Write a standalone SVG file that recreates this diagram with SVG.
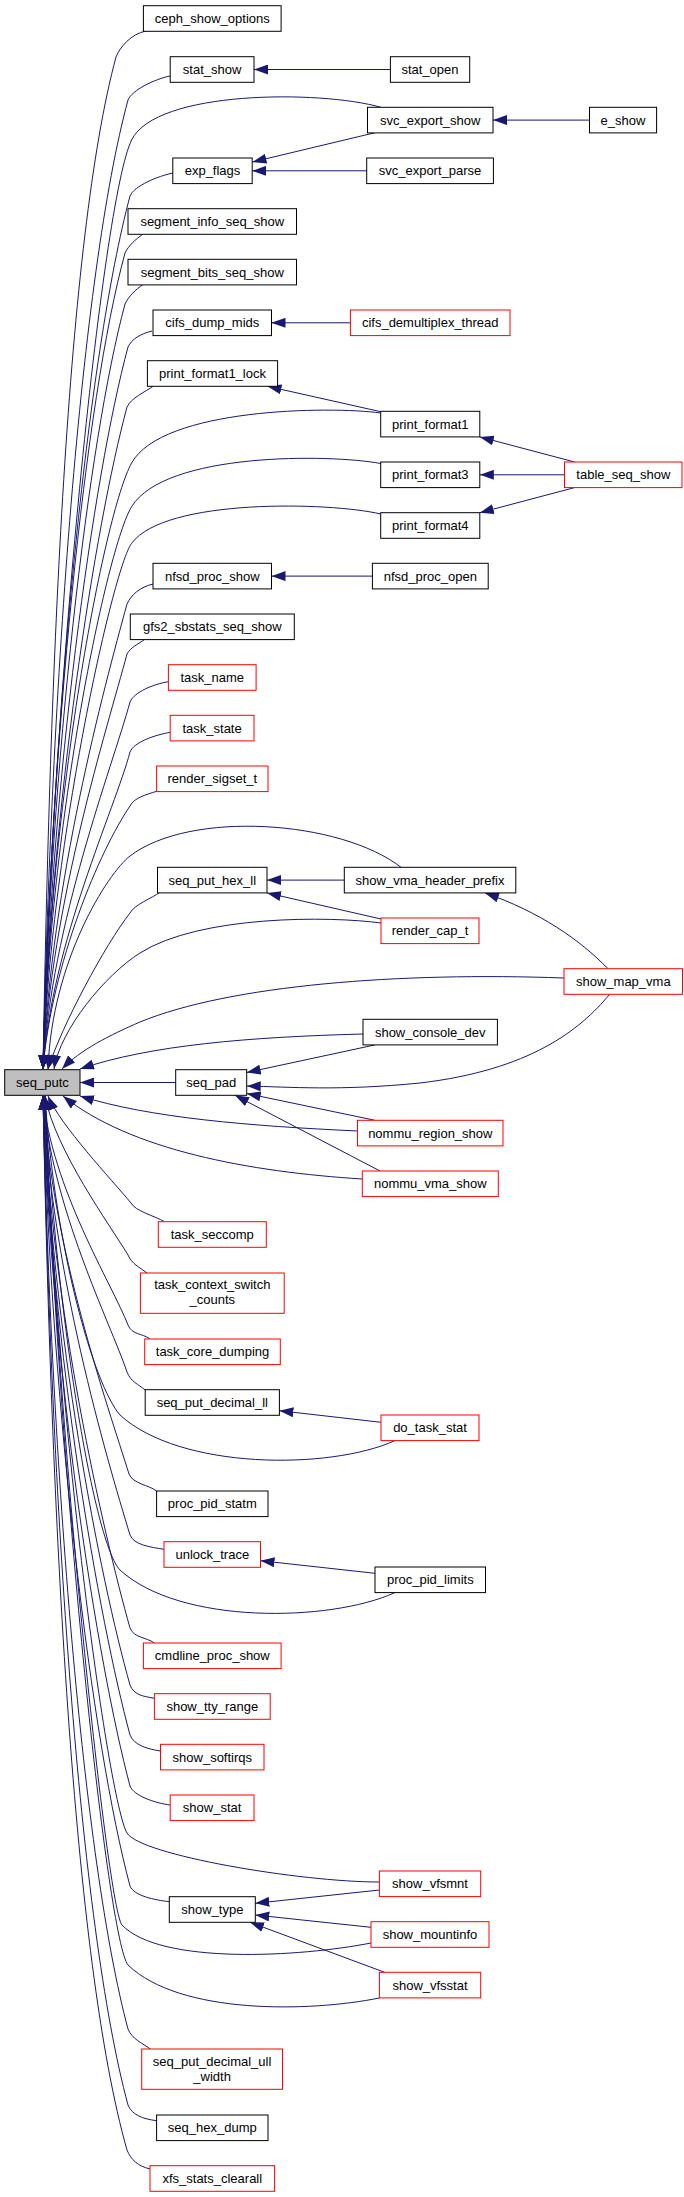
<svg xmlns="http://www.w3.org/2000/svg" width="684" height="2197" viewBox="0 0 684 2197">
<style>
.nd rect{fill:#ffffff;stroke:#000000;stroke-width:1}
.nd.red rect{stroke:#ff0000}
.nd.cur rect{fill:#bfbfbf}
.nd text{font-family:"Liberation Sans",Arial,Helvetica,sans-serif;font-size:13px;text-anchor:middle;fill:#000000}
#edges path{fill:none;stroke:#191970;stroke-width:1;marker-end:url(#ah)}
</style>
<defs>
<marker id="ah" viewBox="0 0 14 10" refX="14" refY="5" markerWidth="14" markerHeight="10" markerUnits="userSpaceOnUse" orient="auto"><path d="M0,0 L14,5 L0,10 Z" fill="#191970" stroke="none"/></marker>
</defs>
<rect x="0" y="0" width="684" height="2197" fill="#ffffff"/>
<g id="edges">
<path d="M146,31 C131,34 120,47 116,57 C67,239 50,664 43,1069"/>
<path d="M170,76 C155,79 132,90 128,100 C81,274 51.5,681 43,1069"/>
<path d="M381,107.3 C320,90 156,90 131.6,140 C102,200 52,700 43,1069"/>
<path d="M173,173 C158,176 134,186 130,196 C88,353 52,719 43,1069"/>
<path d="M143,234 C135,240 129,245 125,253 C85,400 51,742 43,1069"/>
<path d="M143,284.5 C135,290 129,296 125,304 C88,442 51,762 43,1069"/>
<path d="M152,331 C140,334 132,339 128,347 C93,477 51.5,780 43,1069"/>
<path d="M153.5,386 C145,392 131,398 127,407 C95,526 51.4,804 43,1069"/>
<path d="M380.7,413 C330,406 162,408 131.6,463 C104,513 50,800 43,1069"/>
<path d="M380.7,463.5 C330,454 165,452 131.6,506.7 C107,547 50,820 43,1069"/>
<path d="M380.7,514 C330,502 165,498 131.6,543.3 C113,568 50,850 43,1069"/>
<path d="M153,584 C140,587 131,595 127,604 C104,688 51.4,882 43,1069"/>
<path d="M144.7,639.3 C137,645 131,647 127,654 C107,729 51.4,902 43,1069"/>
<path d="M168.4,681.7 C154,684 134,692 130,702 C112,768 51.7,922 43,1069"/>
<path d="M170.2,732.3 C155,735 134,742 130,752 C115,809 51.7,942 43,1069"/>
<path d="M156.6,791.3 C145,795 134,798 130,806 C100,850 51.7,963 43,1069"/>
<path d="M401,867.3 C340,820 190,810 130,856 C108,873 52,960 48,1069"/>
<path d="M160,892.3 C152,898 134,905 130,913 C105,945 62,1025 48,1069"/>
<path d="M381,923 C330,916 200,915 140,953 C105,975 60,1030 54,1069"/>
<path d="M564,978 C400,972 230,985 140,1022 C110,1035 80,1050 62,1069"/>
<path d="M363,1034 C250,1037 150,1045 80,1069"/>
<path d="M175.7,1082.5 L80,1082.5"/>
<path d="M357.5,1131 C250,1126 150,1118 80,1096"/>
<path d="M362.3,1179 C250,1172 130,1150 63,1096"/>
<path d="M164.5,1221.7 C155,1216 135,1211 131,1203 C112,1180 60,1125 48,1096"/>
<path d="M147,1273 C139,1267 132,1264 128,1255 C110,1225 55,1150 45,1096"/>
<path d="M150,1339 C142,1333 132,1335 128,1325 C112,1284 51.5,1188 43,1096"/>
<path d="M145.2,1390 C138,1384 131,1382 127,1372 C110,1322 51.4,1207 43,1096"/>
<path d="M394.7,1440.7 C330,1470 180,1470 120,1415 C94,1385 55,1250 45,1096"/>
<path d="M156.6,1491 C149,1485 133,1484 129,1474 C108,1406 51.6,1248 43,1096"/>
<path d="M164,1549.3 C150,1547 134,1545 130,1535 C106,1456 51.7,1272 43,1096"/>
<path d="M394.7,1592.7 C330,1622 180,1625 120,1570 C95,1545 56,1320 45,1096"/>
<path d="M154.4,1643 C146,1637 134,1638 130,1628 C103,1532 51.7,1309 43,1096"/>
<path d="M154.4,1698.3 C142,1696 134,1695 130,1685 C100,1579 51.7,1332 43,1096"/>
<path d="M160.5,1751 C147,1749 134,1745 130,1735 C99,1620 51.7,1352 43,1096"/>
<path d="M170.2,1805 C155,1803 134,1796 130,1786 C97,1662 51.7,1373 43,1096"/>
<path d="M379.4,1882 C300,1882 140,1855 127,1833 C108,1800 56,1420 45,1096"/>
<path d="M169.3,1901.7 C155,1900 134,1896 130,1886 C92,1744 51.7,1413 43,1096"/>
<path d="M371,1943 C300,1957 160,1965 122,1925 C108,1910 58,1450 45,1096"/>
<path d="M379.4,1998 C310,2012 180,2015 128,1965 C108,1940 60,1500 45,1096"/>
<path d="M150.4,2049 C142,2043 132,2039 128,2029 C83,1861 51.5,1470 43,1096"/>
<path d="M156.6,2120.7 C143,2119 132,2115 128,2105 C79,1924 51.5,1500 43,1096"/>
<path d="M150,2169 C138,2166 131,2160 127,2150 C73,1960 51.4,1518 43,1096"/>
<path d="M390.4,69.5 L254,69.5"/>
<path d="M589.5,120.1 L493,120.1"/>
<path d="M375,132.7 L252.5,162"/>
<path d="M366.7,170.8 L252.2,170.8"/>
<path d="M350.4,322.8 L271.5,322.8"/>
<path d="M380.7,411.7 L267.5,386.3"/>
<path d="M574.6,462 L479.8,436.9"/>
<path d="M564.5,474.8 L479.8,474.8"/>
<path d="M574.6,487.6 L479.8,512.7"/>
<path d="M372.4,576.1 L271.5,576.1"/>
<path d="M344.3,880.1 L267,880.1"/>
<path d="M381,919 L267,892.9"/>
<path d="M608,968.7 C580,940 540,912 485,892.9"/>
<path d="M375,1044.9 L246.7,1072.5"/>
<path d="M609.6,994.3 C580,1030 530,1070 420,1083 C340,1091 290,1087 246.7,1086"/>
<path d="M375,1120.3 L246.7,1093.5"/>
<path d="M380,1171 L235,1095.3"/>
<path d="M381,1422.3 L279.4,1410.7"/>
<path d="M375,1573.3 L260.5,1560.7"/>
<path d="M379.4,1890 L255.3,1903.3"/>
<path d="M371,1927.3 L255.3,1915"/>
<path d="M384.6,1972.3 L250,1922.3"/>
</g>
<g id="n_ceph_show_options" class="nd"><rect x="143.4" y="5.7" width="137.7" height="25.6"/><text x="212.3" y="23">ceph_show_options</text></g>
<g id="n_stat_show" class="nd"><rect x="170.2" y="56.7" width="83.8" height="25.6"/><text x="212.1" y="74">stat_show</text></g>
<g id="n_stat_open" class="nd"><rect x="390.4" y="56.7" width="79.3" height="25.6"/><text x="430" y="74">stat_open</text></g>
<g id="n_svc_export_show" class="nd"><rect x="367.5" y="107.3" width="125.5" height="25.6"/><text x="430.2" y="124.6">svc_export_show</text></g>
<g id="n_e_show" class="nd"><rect x="589.5" y="107.3" width="67.1" height="25.6"/><text x="623" y="124.6">e_show</text></g>
<g id="n_exp_flags" class="nd"><rect x="172.8" y="158" width="79.4" height="25.6"/><text x="212.5" y="175.3">exp_flags</text></g>
<g id="n_svc_export_parse" class="nd"><rect x="366.7" y="158" width="126.7" height="25.6"/><text x="430" y="175.3">svc_export_parse</text></g>
<g id="n_segment_info_seq_show" class="nd"><rect x="128" y="208.7" width="168.5" height="25.6"/><text x="212.3" y="226">segment_info_seq_show</text></g>
<g id="n_segment_bits_seq_show" class="nd"><rect x="128" y="259.3" width="168.5" height="25.6"/><text x="212.3" y="276.6">segment_bits_seq_show</text></g>
<g id="n_cifs_dump_mids" class="nd"><rect x="153" y="310" width="118.5" height="25.6"/><text x="212.3" y="327.3">cifs_dump_mids</text></g>
<g id="n_cifs_demultiplex_thread" class="nd red"><rect x="350.4" y="310" width="159.6" height="25.6"/><text x="430.2" y="327.3">cifs_demultiplex_thread</text></g>
<g id="n_print_format1_lock" class="nd"><rect x="147.4" y="360.7" width="130.2" height="25.6"/><text x="212.5" y="378">print_format1_lock</text></g>
<g id="n_print_format1" class="nd"><rect x="380.7" y="411.3" width="99.1" height="25.6"/><text x="430.3" y="428.6">print_format1</text></g>
<g id="n_print_format3" class="nd"><rect x="380.7" y="462" width="99.1" height="25.6"/><text x="430.3" y="479.3">print_format3</text></g>
<g id="n_table_seq_show" class="nd red"><rect x="564.5" y="462" width="117.5" height="25.6"/><text x="623.3" y="479.3">table_seq_show</text></g>
<g id="n_print_format4" class="nd"><rect x="380.7" y="512.7" width="99.1" height="25.6"/><text x="430.3" y="530">print_format4</text></g>
<g id="n_nfsd_proc_show" class="nd"><rect x="153" y="563.3" width="118.5" height="25.6"/><text x="212.3" y="580.6">nfsd_proc_show</text></g>
<g id="n_nfsd_proc_open" class="nd"><rect x="372.4" y="563.3" width="115.8" height="25.6"/><text x="430.3" y="580.6">nfsd_proc_open</text></g>
<g id="n_gfs2_sbstats_seq_show" class="nd"><rect x="130.3" y="614" width="164" height="25.6"/><text x="212.3" y="631.3">gfs2_sbstats_seq_show</text></g>
<g id="n_task_name" class="nd red"><rect x="168.4" y="664.7" width="87.7" height="25.6"/><text x="212.3" y="682">task_name</text></g>
<g id="n_task_state" class="nd red"><rect x="170.2" y="715.3" width="83.8" height="25.6"/><text x="212.1" y="732.6">task_state</text></g>
<g id="n_render_sigset_t" class="nd red"><rect x="156.6" y="766" width="111.4" height="25.6"/><text x="212.3" y="783.3">render_sigset_t</text></g>
<g id="n_seq_put_hex_ll" class="nd"><rect x="157.5" y="867.3" width="109.5" height="25.6"/><text x="212.3" y="884.6">seq_put_hex_ll</text></g>
<g id="n_show_vma_header_prefix" class="nd"><rect x="344.3" y="867.3" width="171.5" height="25.6"/><text x="430" y="884.6">show_vma_header_prefix</text></g>
<g id="n_render_cap_t" class="nd red"><rect x="381" y="918" width="98" height="25.6"/><text x="430" y="935.3">render_cap_t</text></g>
<g id="n_show_map_vma" class="nd red"><rect x="564" y="968.7" width="118.5" height="25.6"/><text x="623.3" y="986">show_map_vma</text></g>
<g id="n_show_console_dev" class="nd"><rect x="363" y="1019.3" width="134.4" height="25.6"/><text x="430.2" y="1036.6">show_console_dev</text></g>
<g id="n_seq_putc" class="nd cur"><rect x="4.7" y="1069.7" width="75.3" height="25.6"/><text x="42.4" y="1087">seq_putc</text></g>
<g id="n_seq_pad" class="nd"><rect x="175.7" y="1069.7" width="71" height="25.6"/><text x="211.2" y="1087">seq_pad</text></g>
<g id="n_nommu_region_show" class="nd red"><rect x="357.5" y="1120.3" width="145.5" height="25.6"/><text x="430.3" y="1137.6">nommu_region_show</text></g>
<g id="n_nommu_vma_show" class="nd red"><rect x="362.3" y="1171" width="136" height="25.6"/><text x="430.3" y="1188.3">nommu_vma_show</text></g>
<g id="n_task_seccomp" class="nd red"><rect x="158.3" y="1221.7" width="108" height="25.6"/><text x="212.3" y="1239">task_seccomp</text></g>
<g id="n_task_context_switch_counts" class="nd red"><rect x="140.4" y="1273" width="143.8" height="40.3"/><text x="212.3" y="1289.2">task_context_switch</text><text x="212.3" y="1304.2">_counts</text></g>
<g id="n_task_core_dumping" class="nd red"><rect x="144.7" y="1339" width="135.6" height="25.6"/><text x="212.5" y="1356.3">task_core_dumping</text></g>
<g id="n_seq_put_decimal_ll" class="nd"><rect x="145.2" y="1389.7" width="134.2" height="25.6"/><text x="212.3" y="1407">seq_put_decimal_ll</text></g>
<g id="n_do_task_stat" class="nd red"><rect x="381" y="1415" width="98" height="25.6"/><text x="430" y="1432.3">do_task_stat</text></g>
<g id="n_proc_pid_statm" class="nd"><rect x="156.6" y="1491" width="111.4" height="25.6"/><text x="212.3" y="1508.3">proc_pid_statm</text></g>
<g id="n_unlock_trace" class="nd red"><rect x="164" y="1541.7" width="96.5" height="25.6"/><text x="212.3" y="1559">unlock_trace</text></g>
<g id="n_proc_pid_limits" class="nd"><rect x="375" y="1567" width="110.5" height="25.6"/><text x="430.3" y="1584.3">proc_pid_limits</text></g>
<g id="n_cmdline_proc_show" class="nd red"><rect x="143.4" y="1643" width="137.7" height="25.6"/><text x="212.3" y="1660.3">cmdline_proc_show</text></g>
<g id="n_show_tty_range" class="nd red"><rect x="154.4" y="1693.7" width="115.8" height="25.6"/><text x="212.3" y="1711">show_tty_range</text></g>
<g id="n_show_softirqs" class="nd red"><rect x="160.5" y="1744.3" width="103.5" height="25.6"/><text x="212.3" y="1761.6">show_softirqs</text></g>
<g id="n_show_stat" class="nd red"><rect x="170.2" y="1795" width="83.8" height="25.6"/><text x="212.1" y="1812.3">show_stat</text></g>
<g id="n_show_vfsmnt" class="nd red"><rect x="379.4" y="1871" width="101.3" height="25.6"/><text x="430" y="1888.3">show_vfsmnt</text></g>
<g id="n_show_type" class="nd"><rect x="169.3" y="1896.7" width="86" height="25.6"/><text x="212.3" y="1914">show_type</text></g>
<g id="n_show_mountinfo" class="nd red"><rect x="371" y="1921.7" width="118" height="25.6"/><text x="430" y="1939">show_mountinfo</text></g>
<g id="n_show_vfsstat" class="nd red"><rect x="379.4" y="1972.3" width="101.3" height="25.6"/><text x="430" y="1989.6">show_vfsstat</text></g>
<g id="n_seq_put_decimal_ull_width" class="nd red"><rect x="141.7" y="2049" width="140.8" height="40.3"/><text x="212.1" y="2066">seq_put_decimal_ull</text><text x="212.1" y="2081">_width</text></g>
<g id="n_seq_hex_dump" class="nd"><rect x="156.6" y="2115" width="111.4" height="25.6"/><text x="212.3" y="2132.3">seq_hex_dump</text></g>
<g id="n_xfs_stats_clearall" class="nd red"><rect x="150" y="2165.7" width="124.6" height="25.6"/><text x="212.3" y="2183">xfs_stats_clearall</text></g>
</svg>
